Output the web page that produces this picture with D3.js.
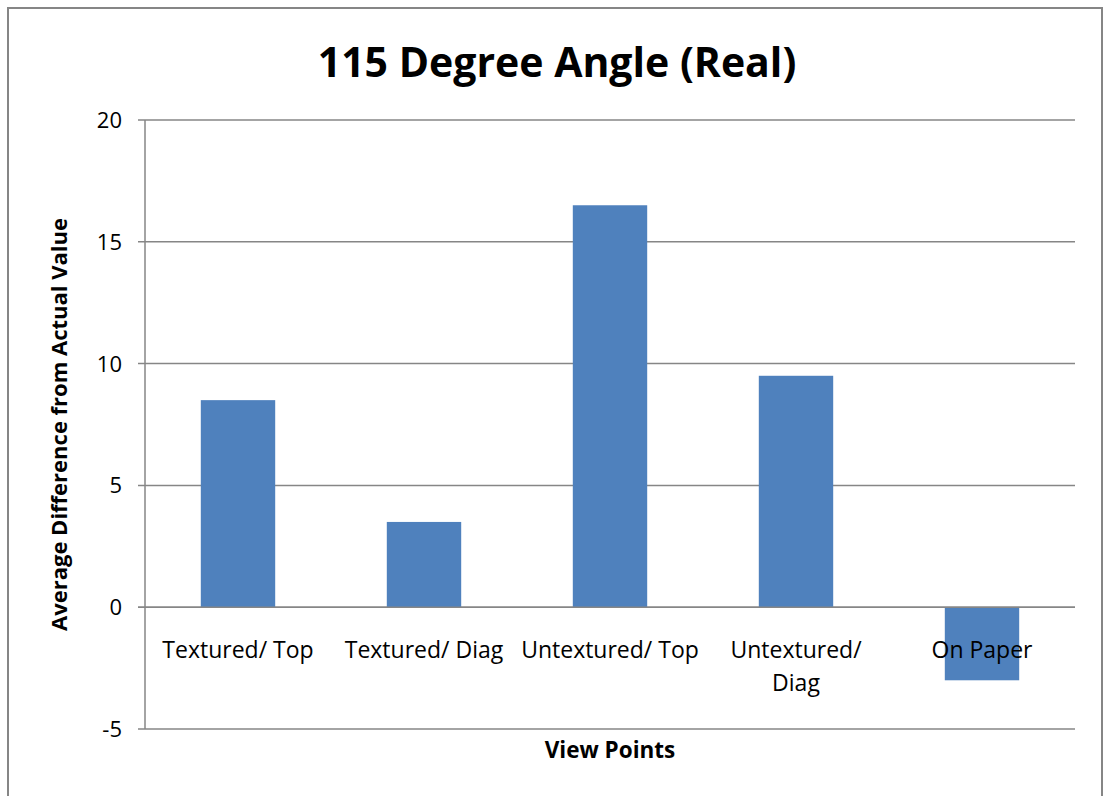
<!DOCTYPE html>
<html>
<head>
<meta charset="utf-8">
<script src="https://cdn.jsdelivr.net/npm/d3@7"></script>
<style>
  body { margin: 0; background: #fff; }
  text { font-family: "Open Sans", "Noto Sans", sans-serif; fill: #000; }
</style>
</head>
<body>
<div class="chart"></div>
<script>
const categories = ["Textured/ Top", "Textured/ Diag", "Untextured/ Top", "Untextured/ Diag", "On Paper"]
const values = [8.5, 3.5, 16.5, 9.5, -3]
const yTicks = [-5, 0, 5, 10, 15, 20]

const width = 1104
const height = 796
const margin = { top: 120, right: 29, bottom: 67, left: 145 }

const svg = d3.select(".chart")
  .append("svg")
  .attr("width", width)
  .attr("height", height)

// outer frame
svg.append("rect")
  .attr("x", 8).attr("y", 8)
  .attr("width", 1094).attr("height", 800)
  .attr("fill", "none")
  .attr("stroke", "#868686")
  .attr("stroke-width", 2)

const x = d3.scaleBand()
  .domain(categories)
  .range([margin.left, width - margin.right])
  .paddingInner(0.6)
  .paddingOuter(0.3)

const y = d3.scaleLinear()
  .domain([-5, 20])
  .range([height - margin.bottom, margin.top])

// gridlines
svg.append("g")
  .selectAll("line")
  .data(yTicks)
  .enter()
  .append("line")
  .attr("x1", margin.left - 7)
  .attr("x2", width - margin.right)
  .attr("y1", d => y(d))
  .attr("y2", d => y(d))
  .style("stroke", "#868686")
  .style("stroke-width", 1.5)

// y axis line
svg.append("line")
  .attr("x1", margin.left).attr("x2", margin.left)
  .attr("y1", y(20)).attr("y2", y(-5))
  .style("stroke", "#868686")
  .style("stroke-width", 1.5)

// y tick labels
svg.append("g")
  .selectAll("text")
  .data(yTicks)
  .enter()
  .append("text")
  .attr("x", margin.left - 23)
  .attr("y", d => y(d))
  .attr("dy", "0.36em")
  .attr("text-anchor", "end")
  .style("font-size", "22px")
  .text(d => d)

// bars
svg.append("g")
  .selectAll("rect")
  .data(values)
  .enter()
  .append("rect")
  .attr("x", (d, i) => x(categories[i]))
  .attr("width", x.bandwidth())
  .attr("y", d => y(Math.max(0, d)))
  .attr("height", d => Math.abs(y(d) - y(0)))
  .style("fill", "#4f81bd")

// redraw zero line on top of bars
svg.append("line")
  .attr("x1", margin.left - 7)
  .attr("x2", width - margin.right)
  .attr("y1", y(0)).attr("y2", y(0))
  .style("stroke", "#868686")
  .style("stroke-width", 1.5)

// category labels, wrapped like the original
const wrap = { "Untextured/ Diag": ["Untextured/", "Diag"] }
const catLabels = svg.append("g")
  .selectAll("text")
  .data(categories)
  .enter()
  .append("text")
  .attr("x", d => x(d) + x.bandwidth() / 2)
  .attr("y", y(0) + 51)
  .attr("text-anchor", "middle")
  .style("font-size", "23px")

catLabels.each(function(d) {
  const lines = wrap[d] || [d]
  d3.select(this).selectAll("tspan")
    .data(lines)
    .enter()
    .append("tspan")
    .attr("x", x(d) + x.bandwidth() / 2)
    .attr("dy", (l, i) => i === 0 ? 0 : 33)
    .text(l => l)
})

// title
svg.append("text")
  .attr("x", 557)
  .attr("y", 77)
  .attr("text-anchor", "middle")
  .style("font-size", "41px")
  .style("font-weight", "bold")
  .text("115 Degree Angle (Real)")

// x axis title
svg.append("text")
  .attr("x", 610)
  .attr("y", 758)
  .attr("text-anchor", "middle")
  .style("font-size", "22.5px")
  .style("font-weight", "bold")
  .text("View Points")

// y axis title
svg.append("text")
  .attr("transform", "translate(67," + y(7.5) + ") rotate(-90)")
  .attr("text-anchor", "middle")
  .style("font-size", "22px")
  .style("font-weight", "bold")
  .text("Average Difference from Actual Value")
</script>
</body>
</html>
